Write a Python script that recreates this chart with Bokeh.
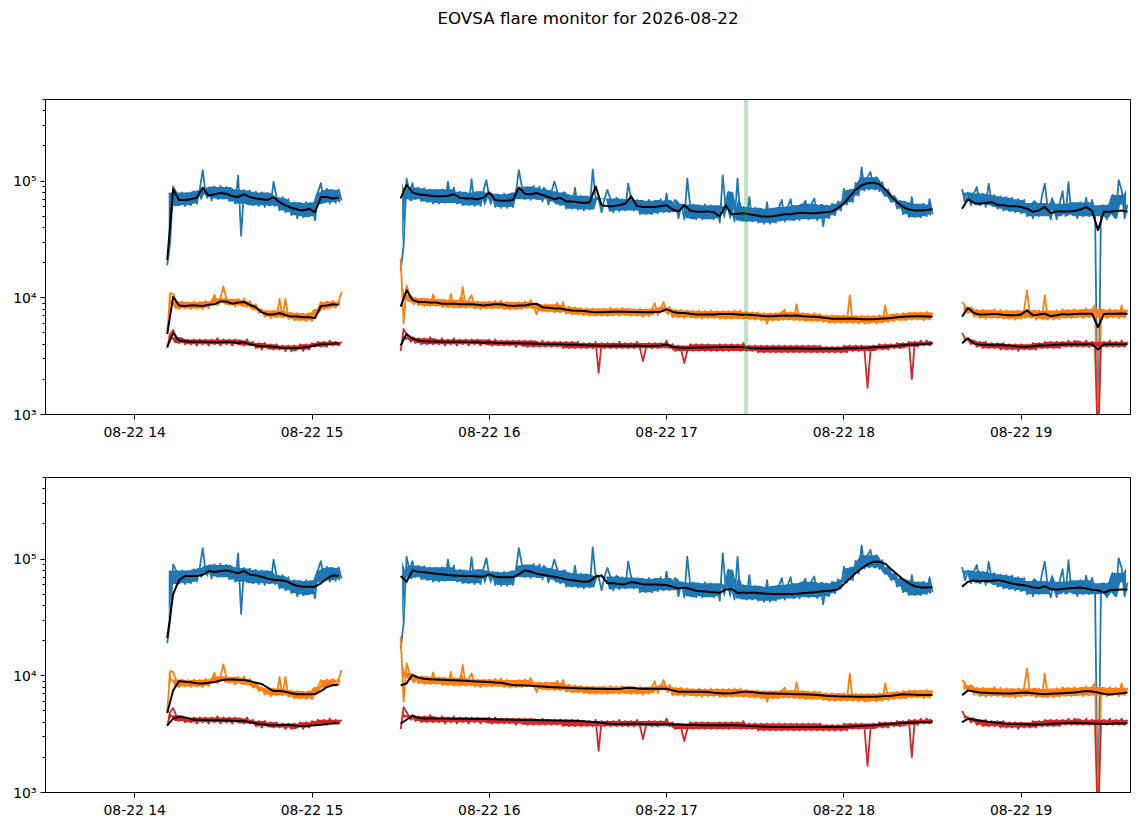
from datetime import datetime, timedelta

from bokeh.embed import file_html
from bokeh.layouts import column
from bokeh.models import (CustomJSTickFormatter, DatetimeTickFormatter,
                          FixedTicker, Range1d, Span)
from bokeh.plotting import figure
from bokeh.resources import INLINE

TITLE = "EOVSA flare monitor for 2026-08-22"
T0 = datetime(2026, 8, 22, 14, 0)

# segment start, minutes after 14:00 (raw data every minute, smoothed every 2 min)
seg_start = [11, 90, 280]
flare_mark = "17:26:54"
hour_ticks = [14, 15, 16, 17, 18, 19]

# raw flux, units of 1e3
blue_1 = [19, 30, 90, 80, 62, 80, 61, 79, 62, 82,
          64, 84, 124, 78, 88, 68, 90, 70, 91, 71,
          89, 67, 85, 64, 112, 34, 84, 64, 83, 62,
          81, 61, 80, 60, 79, 62, 99, 72, 56, 73,
          54, 70, 51, 66, 48, 65, 49, 66, 50, 63,
          46, 80, 96, 66, 86, 64, 84, 65, 85, 68]
blue_2 = [17, 28, 105, 80, 96, 70, 88, 67, 87, 66,
          85, 64, 84, 64, 85, 65, 99, 68, 88, 64,
          81, 62, 80, 62, 104, 61, 80, 61, 82, 102,
          72, 78, 60, 77, 59, 78, 59, 77, 60, 80,
          124, 90, 70, 88, 69, 91, 70, 90, 67, 84,
          63, 80, 99, 82, 62, 77, 58, 76, 58, 88,
          57, 75, 56, 74, 57, 126, 70, 70, 54, 71,
          84, 70, 54, 72, 55, 70, 56, 95, 70, 56,
          69, 52, 68, 52, 69, 52, 68, 53, 70, 54,
          78, 54, 64, 69, 48, 63, 47, 105, 60, 63,
          47, 62, 47, 63, 48, 62, 47, 60, 44, 112,
          58, 81, 58, 45, 105, 46, 60, 45, 73, 45,
          59, 44, 58, 43, 66, 43, 57, 44, 59, 69,
          45, 60, 70, 46, 61, 46, 62, 68, 47, 64,
          71, 46, 62, 41, 62, 48, 64, 51, 67, 56,
          86, 63, 84, 66, 97, 75, 131, 83, 108, 120,
          86, 108, 82, 98, 74, 85, 66, 75, 58, 68,
          52, 66, 49, 73, 49, 63, 49, 64, 50, 70,
          52]
blue_3 = [85, 66, 80, 62, 78, 89, 62, 78, 60, 95,
          67, 76, 58, 74, 56, 73, 55, 72, 54, 70,
          53, 69, 50, 64, 48, 65, 50, 74, 95, 58,
          47, 62, 47, 64, 82, 50, 98, 52, 64, 48,
          66, 50, 72, 50, 69, 55, 0.5, 52, 62, 47,
          63, 76, 48, 102, 84, 48, 63]

orange_1 = [4.9, 11.0, 10.8, 9.2, 8.0, 9.3, 8.1, 9.2, 8.0, 9.3,
            8.1, 9.2, 8.0, 9.4, 8.2, 9.3, 10.6, 8.6, 9.9, 12.5,
            9.8, 8.7, 9.6, 8.4, 9.8, 8.6, 9.9, 8.4, 9.4, 7.9,
            8.8, 7.4, 8.0, 6.9, 7.7, 6.7, 7.8, 6.8, 9.8, 6.8,
            9.8, 6.6, 7.5, 6.4, 7.4, 6.4, 7.3, 6.3, 7.4, 6.3,
            7.2, 8.0, 9.2, 8.0, 9.3, 8.1, 9.4, 8.2, 9.3, 11.2]
orange_2 = [21.7, 6.0, 12.8, 10.6, 9.2, 10.0, 8.6, 9.9, 8.5, 9.8,
            8.5, 10.7, 8.5, 9.7, 8.3, 9.6, 8.3, 10.8, 8.2, 9.5,
            8.2, 12.4, 8.2, 9.4, 10.5, 8.1, 9.3, 8.0, 9.2, 8.1,
            9.3, 8.1, 9.4, 8.2, 9.5, 8.0, 9.2, 7.9, 9.1, 8.0,
            9.2, 8.0, 9.3, 8.2, 9.6, 8.4, 7.2, 8.8, 7.7, 8.8,
            7.6, 8.7, 7.5, 9.1, 7.5, 9.2, 7.3, 8.4, 7.2, 8.3,
            7.2, 8.2, 7.1, 8.1, 7.0, 8.1, 7.0, 8.0, 7.0, 8.1,
            7.0, 8.2, 7.1, 8.1, 7.0, 8.2, 7.1, 8.1, 7.0, 8.0,
            7.0, 8.1, 6.9, 8.0, 7.0, 8.0, 9.0, 7.1, 8.1, 9.2,
            7.5, 8.4, 6.8, 7.9, 6.8, 7.9, 6.7, 7.8, 6.8, 7.7,
            6.7, 7.8, 6.6, 7.7, 6.7, 7.8, 6.7, 7.7, 6.6, 7.7,
            6.6, 7.7, 6.6, 7.8, 6.7, 7.8, 6.6, 7.6, 6.5, 7.5,
            6.5, 7.5, 6.4, 7.4, 6.0, 7.4, 6.4, 7.4, 6.4, 7.5,
            7.9, 6.5, 7.5, 6.4, 8.8, 6.4, 7.4, 6.3, 7.3, 6.3,
            7.4, 6.3, 7.3, 6.2, 7.1, 6.1, 7.1, 6.1, 7.0, 6.1,
            7.1, 6.1, 10.5, 6.1, 7.0, 6.0, 7.0, 6.0, 7.0, 6.1,
            7.0, 6.0, 7.1, 6.1, 8.6, 6.2, 7.2, 6.3, 7.3, 6.4,
            7.4, 6.4, 7.5, 6.5, 7.5, 6.5, 7.5, 6.4, 7.6, 6.5,
            7.5]
orange_3 = [9.2, 8.6, 7.4, 8.3, 6.9, 7.9, 6.7, 7.9, 6.6, 7.8,
            6.7, 8.0, 6.7, 7.9, 6.6, 7.8, 6.6, 7.7, 6.5, 7.8,
            6.6, 7.9, 11.6, 6.8, 7.7, 6.5, 7.8, 6.6, 10.5, 6.5,
            7.6, 6.5, 7.8, 6.6, 8.0, 6.7, 7.9, 6.7, 8.0, 6.8,
            7.9, 6.7, 8.1, 6.8, 8.0, 8.6, 0.6, 6.8, 7.9, 6.7,
            8.0, 6.8, 7.9, 6.7, 8.6, 6.8, 7.9]

red_1 = [3.7, 4.9, 5.3, 4.6, 4.1, 4.5, 4.0, 4.4, 4.0, 4.4,
         3.9, 4.4, 4.0, 4.4, 3.9, 4.4, 4.0, 4.5, 3.9, 4.4,
         4.0, 4.4, 3.9, 4.4, 4.0, 4.3, 3.9, 4.4, 3.9, 4.2,
         3.7, 4.1, 3.6, 4.1, 3.7, 4.0, 3.6, 4.0, 3.6, 3.9,
         3.5, 3.9, 3.5, 3.9, 3.6, 4.0, 3.5, 4.0, 3.6, 4.1,
         3.8, 4.2, 3.8, 4.2, 3.8, 4.3, 3.9, 4.2, 3.9, 4.2]
red_2 = [3.5, 5.4, 4.9, 4.4, 4.6, 4.1, 4.5, 4.0, 4.5, 4.0,
         4.6, 4.0, 4.4, 4.0, 4.5, 3.9, 4.4, 4.0, 4.5, 3.9,
         4.4, 4.0, 4.4, 3.9, 4.4, 4.0, 4.4, 3.9, 4.3, 4.0,
         4.4, 3.9, 4.4, 3.9, 4.3, 3.9, 4.3, 3.9, 4.3, 3.8,
         4.3, 3.9, 4.3, 3.8, 4.3, 3.8, 4.2, 3.8, 4.3, 3.8,
         4.2, 3.8, 4.2, 3.8, 4.2, 3.7, 4.2, 3.7, 4.2, 3.7,
         4.2, 3.7, 4.1, 3.7, 4.1, 3.7, 4.2, 2.27, 4.1, 3.7,
         4.1, 3.7, 4.1, 3.7, 4.2, 3.7, 4.1, 3.7, 4.1, 3.7,
         4.2, 3.7, 2.87, 3.7, 4.1, 3.7, 4.1, 3.7, 4.1, 3.8,
         4.3, 3.7, 4.0, 3.5, 3.9, 3.5, 2.76, 3.5, 4.0, 3.5,
         4.0, 3.5, 4.0, 3.5, 4.0, 3.5, 3.9, 3.5, 4.0, 3.5,
         4.0, 3.5, 4.0, 3.6, 4.0, 3.5, 4.1, 3.5, 3.9, 3.5,
         3.9, 3.4, 3.9, 3.4, 3.9, 3.4, 3.9, 3.4, 3.9, 3.4,
         3.9, 3.4, 3.9, 3.4, 3.9, 3.4, 3.9, 3.4, 3.9, 3.4,
         3.9, 3.4, 3.9, 3.4, 3.8, 3.4, 3.8, 3.4, 3.8, 3.4,
         3.9, 3.4, 3.9, 3.5, 3.9, 3.5, 3.9, 3.5, 1.69, 3.5,
         3.9, 3.6, 4.0, 3.6, 4.0, 3.6, 4.0, 3.7, 4.1, 3.7,
         4.1, 3.8, 4.2, 2.01, 4.2, 3.8, 4.3, 3.9, 4.3, 3.9,
         4.2]
red_3 = [5.0, 4.5, 4.4, 4.0, 4.3, 3.8, 4.2, 3.7, 4.2, 3.7,
         4.1, 3.7, 4.1, 3.6, 4.1, 3.6, 4.0, 3.6, 4.0, 3.5,
         4.0, 3.6, 3.9, 3.6, 4.1, 3.6, 4.1, 3.7, 4.2, 3.7,
         4.2, 3.7, 4.2, 3.7, 4.2, 3.8, 4.3, 3.8, 4.3, 3.8,
         4.2, 3.8, 4.3, 3.8, 4.2, 3.8, 0.5, 3.8, 4.2, 3.8,
         4.3, 3.8, 4.2, 3.8, 4.3, 3.8, 4.2]

# short running mean (top panel), units of 1e3
blue_fast_1 = [21, 85, 69, 69, 70, 72, 88, 75, 77, 79,
               78, 74, 73, 77, 73, 71, 70, 69, 73, 66,
               62, 59, 57, 56, 58, 54, 73, 73, 71, 72]
blue_fast_2 = [71, 93, 80, 77, 76, 75, 74, 74, 75, 77,
               72, 71, 71, 70, 72, 80, 69, 68, 68, 69,
               88, 78, 77, 79, 76, 73, 70, 72, 67, 67,
               66, 65, 66, 90, 62, 61, 61, 62, 64, 74,
               61, 60, 60, 60, 61, 62, 57, 55, 62, 56,
               54.5, 54.5, 55, 54, 50, 62, 52, 52.5, 53, 52,
               51, 50, 49.5, 50, 51, 52, 52, 53, 53.5, 53,
               53, 53.5, 54, 55, 59, 64, 74, 84, 92, 96,
               97, 94, 85, 74, 66, 60, 57, 56, 56, 56.5,
               57.5]
blue_fast_3 = [58, 70, 65, 64, 65, 66, 62.5, 62, 61, 61,
               60, 58, 54.5, 56, 60, 53, 55, 55, 55, 55.5,
               57, 60, 55.5, 38, 54.5, 54.5, 55.5, 56, 54.5]

orange_fast_1 = [4.9, 10.2, 8.6, 8.5, 8.6, 8.6, 8.5, 8.7, 8.8, 9.3,
                 9.3, 8.9, 9.1, 9.2, 8.7, 8.3, 7.5, 7.2, 7.2, 7.4,
                 7.1, 6.9, 6.9, 6.8, 6.8, 6.7, 8.5, 8.6, 8.8, 8.7]
orange_fast_2 = [8.4, 11.6, 9.6, 9.2, 9.2, 9.1, 9.1, 8.9, 8.9, 8.9,
                 8.8, 8.8, 8.8, 8.7, 8.6, 8.7, 8.8, 8.8, 8.6, 8.5,
                 8.6, 8.6, 8.8, 8.9, 8.3, 8.2, 8.1, 8.1, 7.9, 7.8,
                 7.75, 7.7, 7.6, 7.5, 7.5, 7.55, 7.6, 7.6, 7.6, 7.55,
                 7.55, 7.5, 7.5, 7.55, 7.6, 8.0, 7.6, 7.4, 7.4, 7.3,
                 7.2, 7.2, 7.2, 7.2, 7.25, 7.25, 7.25, 7.2, 7.15, 7.15,
                 7.1, 7.0, 6.95, 6.95, 7.0, 7.05, 7.0, 7.05, 6.95, 6.9,
                 6.87, 6.8, 6.7, 6.6, 6.6, 6.6, 6.65, 6.6, 6.55, 6.55,
                 6.55, 6.6, 6.65, 6.7, 6.8, 6.87, 6.9, 6.94, 6.94, 6.9,
                 6.87]
orange_fast_3 = [6.9, 8.2, 7.4, 7.2, 7.2, 7.25, 7.25, 7.15, 7.1, 7.07,
                 7.2, 7.8, 7.07, 7.2, 7.3, 6.95, 7.1, 7.25, 7.2, 7.25,
                 7.3, 7.3, 7.3, 5.6, 7.25, 7.3, 7.3, 7.35, 7.25]

red_fast_1 = [3.8, 5.0, 4.3, 4.25, 4.2, 4.2, 4.2, 4.15, 4.15, 4.15,
              4.2, 4.15, 4.1, 4.15, 4.0, 3.9, 3.85, 3.85, 3.8, 3.75,
              3.72, 3.72, 3.72, 3.75, 3.8, 3.9, 4.0, 4.0, 4.05, 4.05]
red_fast_2 = [3.9, 4.9, 4.45, 4.3, 4.24, 4.22, 4.22, 4.2, 4.2, 4.2,
              4.2, 4.18, 4.15, 4.15, 4.12, 4.15, 4.12, 4.1, 4.08, 4.08,
              4.08, 4.06, 4.05, 4.04, 4.02, 4.0, 4.0, 4.0, 3.96, 3.95,
              3.95, 3.92, 3.9, 3.9, 3.88, 3.88, 3.88, 3.9, 3.88, 3.88,
              3.9, 3.87, 3.87, 3.88, 3.9, 3.98, 3.8, 3.75, 3.72, 3.74,
              3.75, 3.75, 3.75, 3.76, 3.76, 3.78, 3.78, 3.78, 3.77, 3.72,
              3.7, 3.68, 3.67, 3.68, 3.68, 3.68, 3.67, 3.67, 3.67, 3.66,
              3.66, 3.66, 3.65, 3.65, 3.66, 3.68, 3.7, 3.7, 3.72, 3.74,
              3.76, 3.78, 3.8, 3.84, 3.88, 3.92, 3.95, 3.98, 4.0, 4.03,
              4.05]
red_fast_3 = [4.07, 4.5, 4.05, 3.98, 3.95, 3.93, 3.92, 3.92, 3.9, 3.85,
              3.8, 3.8, 3.85, 3.9, 3.9, 3.92, 3.95, 3.98, 4.0, 4.0,
              4.0, 4.0, 4.0, 3.6, 3.98, 4.0, 4.0, 4.0, 4.0]

# long running mean (bottom panel), units of 1e3
blue_slow_1 = [21, 50, 66, 71.5, 71.5, 71.5, 73, 79, 77.5, 79,
               80, 78, 75.5, 79, 73.5, 72.5, 70.5, 68, 66.5, 66,
               65, 61.5, 59, 57.8, 57.8, 58, 62, 68, 72.5, 72]
blue_slow_2 = [71.5, 64, 80, 78, 77, 76, 75, 74, 73, 72.5,
               72, 71.5, 71.5, 71, 70.5, 74, 70.5, 70, 70, 70,
               74, 80, 78, 75, 73.5, 72, 70.5, 69, 67, 66,
               65, 64, 64.5, 71, 72.5, 62, 62, 61, 61, 63.5,
               62.5, 61, 60.5, 60.5, 60.3, 60, 58, 56, 57, 55.5,
               53.5, 53, 52.5, 52, 51.4, 55, 55.5, 51.4, 51.4, 51.4,
               51.4, 51, 50.5, 50.1, 50.1, 50.1, 50.1, 50.5, 51, 51.5,
               52, 52.7, 53.3, 53.8, 55, 61, 68, 76, 83, 90,
               94.8, 95, 91, 82, 74, 67, 62, 58.5, 57.2, 57,
               57.5]
blue_slow_3 = [58, 64, 65.5, 64.5, 65, 65.3, 66, 64.5, 62.5, 61,
               60, 59, 57, 56.5, 58.5, 55.5, 54.5, 55.5, 56.2, 56.6,
               57, 56, 54.5, 54, 51.5, 54, 54.6, 55, 55]

orange_slow_1 = [4.8, 7.5, 9.0, 8.9, 8.8, 8.65, 8.6, 8.7, 8.85, 9.1,
                 9.3, 9.3, 9.25, 9.2, 9.0, 8.7, 8.5, 7.9, 7.4, 7.4,
                 7.3, 7.1, 6.95, 6.95, 6.95, 6.95, 7.4, 8.0, 8.3, 8.4]
orange_slow_2 = [8.3, 8.6, 10.2, 9.6, 9.45, 9.35, 9.3, 9.25, 9.2, 9.15,
                 9.1, 9.05, 9.0, 8.95, 8.9, 8.85, 8.75, 8.7, 8.5, 8.35,
                 8.3, 8.25, 8.2, 8.15, 8.1, 8.0, 7.97, 7.93, 7.9, 7.87,
                 7.83, 7.8, 7.78, 7.76, 7.74, 7.72, 7.7, 7.72, 7.85, 7.9,
                 7.8, 7.76, 7.76, 7.76, 7.76, 7.76, 7.5, 7.3, 7.3, 7.3,
                 7.3, 7.3, 7.25, 7.15, 7.1, 7.05, 7.1, 7.2, 7.3, 7.3,
                 7.2, 7.1, 7.05, 7.05, 7.02, 7.0, 6.98, 6.96, 6.95, 6.93,
                 6.88, 6.82, 6.76, 6.72, 6.68, 6.66, 6.64, 6.62, 6.6, 6.6,
                 6.6, 6.65, 6.7, 6.75, 6.85, 6.95, 6.92, 6.88, 6.85, 6.85,
                 6.85]
orange_slow_3 = [6.8, 7.5, 7.35, 7.2, 7.15, 7.1, 7.08, 7.05, 7.06, 7.1,
                 7.15, 7.2, 7.1, 7.0, 6.95, 7.0, 7.05, 7.1, 7.15, 7.2,
                 7.3, 7.4, 7.35, 7.2, 7.0, 6.9, 7.0, 7.1, 7.2]

red_slow_1 = [3.76, 4.3, 4.45, 4.4, 4.25, 4.2, 4.18, 4.16, 4.16, 4.15,
              4.14, 4.12, 4.1, 4.1, 4.0, 3.9, 3.85, 3.78, 3.76, 3.77,
              3.78, 3.78, 3.72, 3.72, 3.74, 3.76, 3.8, 3.86, 3.9, 3.92]
red_slow_2 = [3.9, 4.2, 4.55, 4.35, 4.3, 4.3, 4.3, 4.3, 4.3, 4.29,
              4.28, 4.28, 4.27, 4.26, 4.26, 4.25, 4.24, 4.23, 4.22, 4.21,
              4.2, 4.19, 4.18, 4.17, 4.16, 4.15, 4.14, 4.13, 4.12, 4.11,
              4.1, 4.08, 4.04, 4.0, 3.95, 3.9, 3.86, 3.86, 3.87, 3.88,
              3.88, 3.87, 3.86, 3.85, 3.84, 3.84, 3.83, 3.82, 3.8, 3.79,
              3.78, 3.77, 3.76, 3.76, 3.76, 3.76, 3.76, 3.76, 3.75, 3.72,
              3.7, 3.68, 3.66, 3.64, 3.64, 3.64, 3.64, 3.64, 3.64, 3.64,
              3.64, 3.64, 3.64, 3.64, 3.64, 3.65, 3.67, 3.7, 3.73, 3.75,
              3.77, 3.8, 3.84, 3.88, 3.91, 3.94, 3.96, 3.98, 3.99, 4.0,
              4.0]
red_slow_3 = [4.0, 4.28, 4.22, 4.12, 4.05, 4.0, 3.95, 3.9, 3.87, 3.86,
              3.85, 3.84, 3.83, 3.83, 3.85, 3.88, 3.9, 3.92, 3.94, 3.95,
              3.93, 3.92, 3.9, 3.88, 3.87, 3.88, 3.9, 3.91, 3.92]

colors = {"blue": "#1f77b4", "orange": "#ff7f0e", "red": "#d62728"}
raw = {"blue": [blue_1, blue_2, blue_3],
       "orange": [orange_1, orange_2, orange_3],
       "red": [red_1, red_2, red_3]}
fast = {"blue": [blue_fast_1, blue_fast_2, blue_fast_3],
        "orange": [orange_fast_1, orange_fast_2, orange_fast_3],
        "red": [red_fast_1, red_fast_2, red_fast_3]}
slow = {"blue": [blue_slow_1, blue_slow_2, blue_slow_3],
        "orange": [orange_slow_1, orange_slow_2, orange_slow_3],
        "red": [red_slow_1, red_slow_2, red_slow_3]}

W = 1143


def at(minute):
    return T0 + timedelta(minutes=minute)


def ms(t):
    return (t - datetime(1970, 1, 1)).total_seconds() * 1000.0


def stamps(start, n, step):
    return [at(start + step * i) for i in range(n)]


SUP = ("const sup = {'0':'\u2070','1':'\u00b9','2':'\u00b2','3':'\u00b3',"
       "'4':'\u2074','5':'\u2075','6':'\u2076','7':'\u2077','8':'\u2078',"
       "'9':'\u2079','-':'\u207b'};"
       "const e = String(Math.round(Math.log10(tick)));"
       "return '10' + e.split('').map(c => sup[c]).join('');")


def draw_noisy(p, start, vals, color):
    ys = [v * 1e3 for v in vals]
    n = len(ys)
    ts = stamps(start, n, 1)
    # the 1-minute samples stand in for a much denser record: shade the inner
    # range of each 8-sample window so the trace reads as a solid band, while
    # isolated spikes stay thin (they are drawn by the line only)
    mids, lo, hi = [], [], []
    for i in range(n - 1):
        w = sorted(ys[max(i - 3, 0):min(i + 5, n)])
        k = 2 if len(w) >= 6 else (1 if len(w) > 2 else 0)
        mids.append(at(start + i + 0.5))
        lo.append(w[k])
        hi.append(w[-1 - k])
    p.varea(x=mids, y1=lo, y2=hi, fill_color=color)
    p.line(ts, ys, line_color=color, line_width=1.8, line_join="round")


def make_panel(avg, height, border_top, border_bottom):
    p = figure(width=W, height=height,
               x_axis_type="datetime", y_axis_type="log",
               x_range=Range1d(at(-30.2), at(337.0)),
               y_range=Range1d(1e3, 5e5),
               toolbar_location=None, output_backend="svg",
               min_border_left=45, min_border_right=13,
               min_border_top=border_top, min_border_bottom=border_bottom)
    p.background_fill_color = "white"
    p.border_fill_color = "white"
    p.outline_line_color = "black"
    p.outline_line_alpha = 1
    p.outline_line_width = 1
    p.xgrid.visible = False
    p.ygrid.visible = False

    p.xaxis.ticker = FixedTicker(ticks=[ms(at(60 * (h - 14))) for h in hour_ticks])
    fmt = "%m-%d %H"
    p.xaxis.formatter = DatetimeTickFormatter(
        milliseconds=fmt, seconds=fmt, minsec=fmt, minutes=fmt, hourmin=fmt,
        hours=fmt, days=fmt, months=fmt, years=fmt)
    decades = [1e3, 1e4, 1e5]
    minors = [k * d for d in decades for k in range(2, 10) if k * d <= 5e5]
    p.yaxis.ticker = FixedTicker(ticks=decades, minor_ticks=minors)
    p.yaxis.formatter = CustomJSTickFormatter(code=SUP)

    for ax in (p.xaxis[0], p.yaxis[0]):
        ax.axis_line_color = "black"
        ax.axis_line_width = 1
        ax.major_tick_line_color = "black"
        ax.minor_tick_line_color = "black"
        ax.major_tick_in = 0
        ax.major_tick_out = 5
        ax.minor_tick_in = 0
        ax.minor_tick_out = 3
        ax.major_label_text_font = "DejaVu Sans"
        ax.major_label_text_font_size = "13.9px"
        ax.major_label_text_color = "black"
        ax.major_label_standoff = 4

    for name in ("blue", "orange", "red"):
        for start, r, a in zip(seg_start, raw[name], avg[name]):
            draw_noisy(p, start, r, colors[name])
            p.line(stamps(start, len(a), 2), [v * 1e3 for v in a],
                   line_color="black", line_width=2, line_join="round")
    return p


# title strip (suptitle), centred on the whole page
head = figure(width=W, height=36, toolbar_location=None, output_backend="svg",
              min_border=0, min_border_left=0, min_border_right=0,
              min_border_top=0, min_border_bottom=0)
head.title.text = TITLE
head.title.align = "center"
head.title.standoff = 10
head.title.text_font = "DejaVu Sans"
head.title.text_font_size = "16.7px"
head.title.text_font_style = "normal"
head.title.text_color = "black"
head.axis.visible = False
head.grid.visible = False
head.outline_line_color = None
head.background_fill_color = "white"
head.border_fill_color = "white"

top = make_panel(fast, 408, 63, 30)
hh, mm, ss = (int(s) for s in flare_mark.split(":"))
flare_t = T0.replace(hour=hh, minute=mm, second=ss)
top.add_layout(Span(location=ms(flare_t), dimension="height",
                    line_color="#2ca02c", line_alpha=0.3, line_width=4))

bottom = make_panel(slow, 382, 33, 34)

page = column(head, top, bottom)
open("out.html", "w").write(file_html(page, INLINE, title=TITLE))
